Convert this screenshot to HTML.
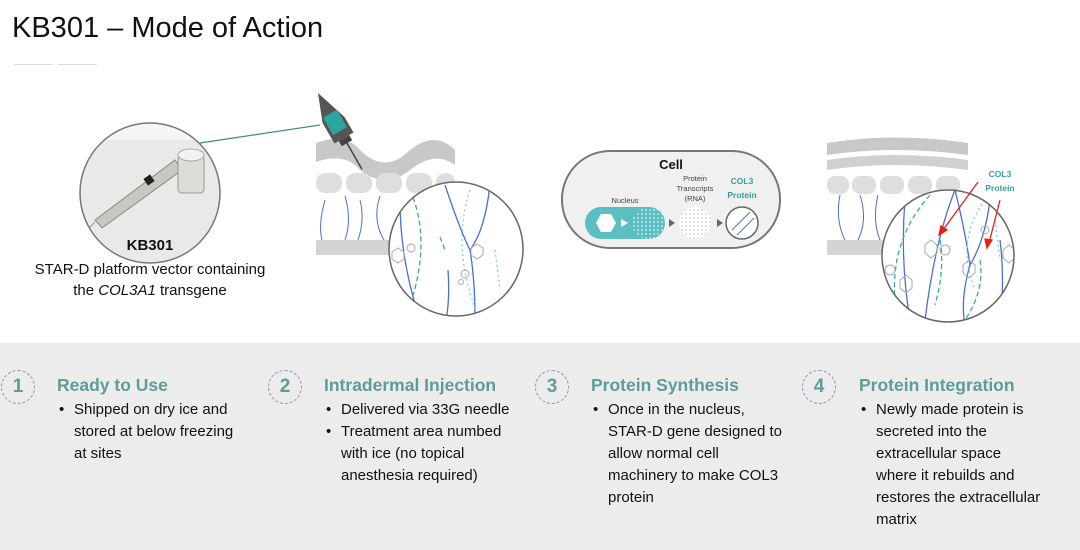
<!DOCTYPE html>
<html><head><meta charset="utf-8"><style>
body{margin:0;width:1080px;height:550px;overflow:hidden;background:#fff;font-family:"Liberation Sans",sans-serif;position:relative}
.t{position:absolute;left:12px;top:12px;font-size:29px;color:#111}
.panel{position:absolute;left:0;top:343px;width:1080px;height:207px;background:#ececec}
.num{position:absolute;top:370px;width:34px;height:34px;border:1.5px dashed #8b93b0;border-radius:50%;box-sizing:border-box;text-align:center;line-height:31px;font-size:19px;font-weight:bold;color:#5e9c9a}
.h{position:absolute;top:375px;font-size:17.5px;font-weight:bold;color:#5e9c9a;white-space:nowrap}
ul{position:absolute;top:399px;margin:0;padding:0 0 0 17px;font-size:15px;line-height:22px;color:#111;list-style:none;white-space:nowrap}
li{position:relative}
li:before{content:"•";position:absolute;left:-15px}
.cap{position:absolute;left:0;width:300px;text-align:center;font-size:15px;color:#111}
</style></head><body>
<div class="t">KB301 – Mode of Action</div>
<div style="position:absolute;left:14px;top:64px;width:39px;height:1px;background:#ddd"></div>
<div style="position:absolute;left:58px;top:64px;width:39px;height:1px;background:#ddd"></div>

<svg width="1080" height="343" style="position:absolute;left:0;top:0">
<defs>
<clipPath id="c1"><circle cx="150" cy="193" r="70"/></clipPath>
<clipPath id="c2"><circle cx="456" cy="249" r="67"/></clipPath>
<clipPath id="c3"><circle cx="948" cy="256" r="66"/></clipPath>
<pattern id="dots" width="4" height="4" patternUnits="userSpaceOnUse"><circle cx="2" cy="2" r="0.8" fill="#bbb"/></pattern>
<pattern id="dw" width="4" height="4" patternUnits="userSpaceOnUse"><circle cx="2" cy="2" r="0.8" fill="#fff"/></pattern>
</defs>
<g clip-path="url(#c1)"><rect x="78" y="120" width="145" height="150" fill="#e9e9e7"/>
<rect x="78" y="120" width="145" height="20" fill="#f5f5f3"/>
<polygon points="95,220 175,160 182,170 102,228" fill="#c9c7c0" stroke="#888" stroke-width="1"/>
<rect x="145" y="176" width="8" height="8" fill="#222" transform="rotate(-35 149 180)"/>
<rect x="178" y="155" width="26" height="38" rx="4" fill="#dcdcd8" stroke="#999"/>
<ellipse cx="191" cy="155" rx="13" ry="6" fill="#f2f2f0" stroke="#aaa"/>
<line x1="95" y1="222" x2="85" y2="232" stroke="#999"/></g>
<circle cx="150" cy="193" r="70" fill="none" stroke="#777" stroke-width="1.5"/>
<line x1="200" y1="143" x2="320" y2="125" stroke="#3d8b87" stroke-width="1.2"/>
<path d="M316,143 Q345,132 360,150 Q385,175 410,150 Q435,130 455,150 L455,165 Q435,150 410,170 Q385,190 360,170 Q345,152 316,162Z" fill="#c8c8c8"/>
<g fill="#dedede"><rect x="316" y="173" width="26" height="20" rx="9"/><rect x="346" y="173" width="26" height="20" rx="9"/><rect x="376" y="173" width="26" height="20" rx="9"/><rect x="406" y="173" width="26" height="20" rx="9"/><rect x="436" y="173" width="19" height="20" rx="9"/></g>
<g transform="translate(318,93) rotate(60)">
<polygon points="0,0 34,-11 52,-11 52,11 28,11" fill="#555"/>
<rect x="24" y="-8" width="20" height="16" fill="#2aa5a0"/>
<rect x="52" y="-6" width="6" height="12" fill="#444"/>
<line x1="58" y1="0" x2="88" y2="0" stroke="#444" stroke-width="1.5"/>
</g>
<g stroke="#4a6fd6" fill="none" stroke-width="1"><path d="M325,200 Q318,225 322,240"/><path d="M345,196 Q352,220 345,240"/><path d="M360,200 Q365,220 358,240"/><path d="M380,196 Q372,220 384,240"/></g>
<rect x="316" y="240" width="100" height="15" fill="#d4d4d4"/>
<g clip-path="url(#c2)"><rect x="385" y="180" width="145" height="140" fill="#fff"/>
<g stroke="#4a6fd6" fill="none" stroke-width="1.3"><path d="M400,200 Q400,260 420,320"/><path d="M445,185 Q460,230 470,250 Q485,230 490,185"/><path d="M470,250 Q475,280 475,320"/><path d="M448,270 Q450,300 446,320"/></g>
<g stroke="#3aa8a2" fill="none" stroke-width="1.3" stroke-dasharray="5,3"><path d="M410,190 Q432,240 410,305"/><path d="M440,237 L445,250"/></g>
<g stroke="#7fd0c8" fill="none" stroke-width="1.3" stroke-dasharray="2,3"><path d="M470,190 Q450,250 480,320"/><path d="M495,250 L500,290"/></g>
<g fill="none" stroke="#aaa"><circle cx="411" cy="248" r="4"/><circle cx="465" cy="274" r="4"/><circle cx="461" cy="282" r="2.5"/><path d="M392,252 l6,-4 6,4 0,7 -6,4 -6,-4z"/><path d="M471,248 l6,-4 6,4 0,7 -6,4 -6,-4z"/></g>
</g>
<circle cx="456" cy="249" r="67" fill="none" stroke="#666" stroke-width="1.5"/>
<rect x="562" y="151" width="218" height="97" rx="48" fill="#f0f0f0" stroke="#777" stroke-width="2"/>
<text x="671" y="169" font-size="13" font-weight="bold" text-anchor="middle" fill="#111">Cell</text>
<text x="695" y="181" font-size="7.5" text-anchor="middle" fill="#444">Protein</text>
<text x="695" y="191" font-size="7.5" text-anchor="middle" fill="#444">Transcripts</text>
<text x="695" y="201" font-size="7.5" text-anchor="middle" fill="#444">(RNA)</text>
<text x="742" y="184" font-size="8.5" font-weight="bold" text-anchor="middle" fill="#3a9e98">COL3</text>
<text x="742" y="198" font-size="8.5" font-weight="bold" text-anchor="middle" fill="#3a9e98">Protein</text>
<text x="625" y="203" font-size="7.5" text-anchor="middle" fill="#444">Nucleus</text>
<rect x="585" y="207" width="80" height="32" rx="16" fill="#5bbfc2"/>
<rect x="632" y="207" width="33" height="32" rx="16" fill="url(#dw)"/>
<path d="M596,223 l5,-9 h10 l5,9 -5,9 h-10z" fill="#fff"/>
<polygon points="621,219 628,223 621,227" fill="#fff"/>
<polygon points="669,219 675,223 669,227" fill="#666"/>
<circle cx="695" cy="223" r="16" fill="#fff"/><circle cx="695" cy="223" r="16" fill="url(#dots)"/>
<polygon points="717,219 723,223 717,227" fill="#666"/>
<circle cx="742" cy="223" r="16" fill="#fff" stroke="#666" stroke-width="1.5"/>
<g stroke="#4a6fd6" stroke-width="1"><line x1="732" y1="230" x2="750" y2="212"/><line x1="737" y1="235" x2="754" y2="218"/></g>
<path d="M827,143 Q895,132 968,143 L968,155 Q895,145 827,155Z" fill="#c8c8c8"/>
<path d="M827,160 Q895,150 968,160 L968,170 Q895,160 827,170Z" fill="#d0d0d0"/>
<g fill="#dedede"><rect x="827" y="176" width="22" height="18" rx="8"/><rect x="852" y="176" width="24" height="18" rx="8"/><rect x="880" y="176" width="24" height="18" rx="8"/><rect x="908" y="176" width="24" height="18" rx="8"/><rect x="936" y="176" width="24" height="18" rx="8"/></g>
<g stroke="#4a6fd6" fill="none"><path d="M840,195 Q835,220 845,240"/><path d="M860,195 Q868,220 858,240"/><path d="M878,195 Q872,220 880,240"/></g>
<rect x="827" y="240" width="60" height="15" fill="#d4d4d4"/>
<g clip-path="url(#c3)"><rect x="880" y="188" width="136" height="136" fill="#fff"/>
<g stroke="#4a6fd6" fill="none" stroke-width="1.3"><path d="M905,200 Q900,260 910,320"/><path d="M955,190 Q935,240 925,320"/><path d="M955,190 Q965,230 970,265 Q985,240 990,200"/><path d="M970,265 Q960,300 965,325"/><path d="M1000,240 Q1005,280 1000,320"/></g>
<g stroke="#3aa8a2" fill="none" stroke-width="1.3" stroke-dasharray="5,3"><path d="M930,195 Q890,240 895,300"/><path d="M940,240 Q945,270 935,305"/><path d="M980,260 Q985,290 965,320"/></g>
<g stroke="#7fd0c8" fill="none" stroke-width="1.3" stroke-dasharray="2,3"><path d="M985,200 Q955,240 975,290"/><path d="M995,220 L1000,260"/></g>
<g fill="none" stroke="#aaa"><circle cx="945" cy="250" r="5"/><circle cx="890" cy="270" r="5"/><circle cx="985" cy="230" r="4"/><path d="M925,245 l6,-5 6,5 0,8 -6,5 -6,-5z"/><path d="M963,265 l6,-5 6,5 0,8 -6,5 -6,-5z"/><path d="M900,280 l6,-5 6,5 0,8 -6,5 -6,-5z"/><path d="M1003,250 l6,-5 6,5 0,8 -6,5 -6,-5z"/></g>
</g>
<circle cx="948" cy="256" r="66" fill="none" stroke="#666" stroke-width="1.5"/>
<text x="1000" y="177" font-size="8.5" font-weight="bold" text-anchor="middle" fill="#3a9e98">COL3</text>
<text x="1000" y="191" font-size="8.5" font-weight="bold" text-anchor="middle" fill="#3a9e98">Protein</text>
<g stroke="#e8201c" stroke-width="1.3" fill="#e8201c"><line x1="978" y1="182" x2="943" y2="230"/><polygon points="939,235 941,226 947,230"/><line x1="1000" y1="200" x2="989" y2="243"/><polygon points="987,248 985,239 992,240"/></g>
</svg>
<div class="cap" style="top:237px;font-weight:bold">KB301</div>
<div class="cap" style="top:261px">STAR-D platform vector containing</div>
<div class="cap" style="top:282px">the <i>COL3A1</i> transgene</div>

<div class="panel"></div>
<div class="num" style="left:1px">1</div>
<div class="num" style="left:268px">2</div>
<div class="num" style="left:535px">3</div>
<div class="num" style="left:802px">4</div>
<div class="h" style="left:57px">Ready to Use</div>
<div class="h" style="left:324px">Intradermal Injection</div>
<div class="h" style="left:591px">Protein Synthesis</div>
<div class="h" style="left:859px">Protein Integration</div>
<ul style="left:57px"><li>Shipped on dry ice and<br>stored at below freezing<br>at sites</li></ul>
<ul style="left:324px"><li>Delivered via 33G needle</li><li>Treatment area numbed<br>with ice (no topical<br>anesthesia required)</li></ul>
<ul style="left:591px"><li>Once in the nucleus,<br>STAR-D gene designed to<br>allow normal cell<br>machinery to make COL3<br>protein</li></ul>
<ul style="left:859px"><li>Newly made protein is<br>secreted into the<br>extracellular space<br>where it rebuilds and<br>restores the extracellular<br>matrix</li></ul>
</body></html>
